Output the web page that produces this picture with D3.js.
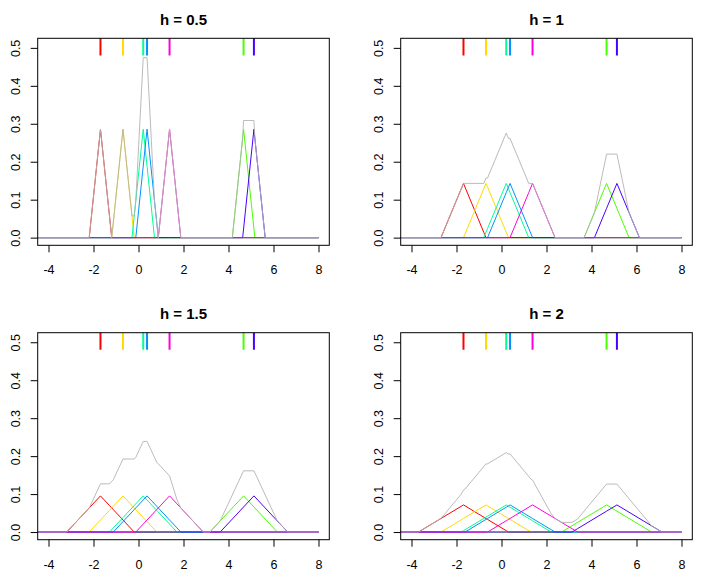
<!DOCTYPE html>
<html>
<head>
<meta charset="utf-8">
<script src="https://cdn.jsdelivr.net/npm/d3@7"></script>
<style>
  html, body { margin: 0; padding: 0; background: #fff; }
  text { font-family: "Liberation Sans", Arial, Helvetica, sans-serif; }
</style>
</head>
<body>
<svg id="chart" width="711" height="581"></svg>
<script>
// ---- data ----
// observations, in the order they are drawn (colour = rainbow(7) in this order)
const points = [-1.69, -0.69, 4.67, 0.21, 0.38, 5.13, 1.38];
const pointColors = ["#FF0000", "#FFDB00", "#49FF00", "#00FF92", "#0092FF", "#4900FF", "#FF00DB"];
const bandwidths = [0.5, 1, 1.5, 2];
const panelTitles = ["h = 0.5", "h = 1", "h = 1.5", "h = 2"];
const xTicks = [-4, -2, 0, 2, 4, 6, 8];
const yTicks = [0, 0.1, 0.2, 0.3, 0.4, 0.5];
const gridRange = [-4.5, 8];      // evaluation range of the curves
const rugRange = [0.48, 0.53];    // vertical extent of the top rug marks
const sumColor = "#b4b4b4";

// ---- layout ----
const svg = d3.select("#chart");
const boxW = 291.6, boxH = 207;
const lefts = [37.7, 400.7], tops = [38.3, 332.7];

// triangular kernel contribution of one point
function tri(x, xi, h, n) {
  const u = Math.abs(x - xi) / h;
  return u < 1 ? (1 - u) / (n * h) : 0;
}

bandwidths.forEach((h, i) => {
  const L = lefts[i % 2], T = tops[Math.floor(i / 2)];
  const x = d3.scaleLinear().domain([-4.48, 8.48]).range([L, L + boxW]);
  const y = d3.scaleLinear().domain([-0.0202, 0.5252]).range([T + boxH, T]);
  const n = points.length;

  const clipId = "clip" + i;
  svg.append("clipPath").attr("id", clipId)
    .append("rect").attr("x", L).attr("y", T).attr("width", boxW).attr("height", boxH);

  const g = svg.append("g");
  const plot = g.append("g").attr("clip-path", `url(#${clipId})`);

  // breakpoints for exact piecewise-linear curves
  let xs = [gridRange[0], gridRange[1]];
  points.forEach(p => { xs.push(p - h, p, p + h); });
  xs = Array.from(new Set(xs.map(v => +v.toFixed(6))))
    .filter(v => v >= gridRange[0] && v <= gridRange[1]).sort((a, b) => a - b);

  const line = d3.line().x(d => x(d[0])).y(d => y(d[1]));

  // individual kernels
  points.forEach((p, k) => {
    const data = xs.map(v => [v, tri(v, p, h, n)]);
    plot.append("path").attr("d", line(data))
      .attr("fill", "none").attr("stroke", pointColors[k]).attr("stroke-width", 1);
  });

  // sum (density estimate)
  const sumData = xs.map(v => [v, d3.sum(points, p => tri(v, p, h, n))]);
  plot.append("path").attr("d", line(sumData))
    .attr("fill", "none").attr("stroke", sumColor).attr("stroke-width", 1)
    .attr("stroke-opacity", 0.9);

  // rug at top
  points.forEach((p, k) => {
    plot.append("line")
      .attr("x1", x(p)).attr("x2", x(p))
      .attr("y1", y(rugRange[0])).attr("y2", y(rugRange[1]))
      .attr("stroke", pointColors[k]).attr("stroke-width", 2);
  });

  // axes
  const xa = g.append("g").attr("transform", `translate(0,${T + boxH})`)
    .call(d3.axisBottom(x).tickValues(xTicks).tickSize(7).tickFormat(d3.format("d")));
  xa.select(".domain").remove();
  xa.selectAll("line").attr("stroke", "#000");
  xa.selectAll("text").attr("y", 29).attr("dy", null)
    .style("font-size", "12.5px").attr("fill", "#000")
    .style("font-family", '"Liberation Sans", Arial, sans-serif')
    .text(d => d < 0 ? "-" + Math.abs(d) : d);

  const ya = g.append("g").attr("transform", `translate(${L},0)`)
    .call(d3.axisLeft(y).tickValues(yTicks).tickSize(7).tickFormat(d3.format(".1f")));
  ya.select(".domain").remove();
  ya.selectAll("line").attr("stroke", "#000");
  ya.selectAll("text")
    .attr("x", null).attr("y", null).attr("dy", null)
    .attr("text-anchor", "middle")
    .attr("transform", "translate(-18,0) rotate(-90)")
    .style("font-size", "12.5px").attr("fill", "#000")
    .style("font-family", '"Liberation Sans", Arial, sans-serif');

  // box
  g.append("rect").attr("x", L).attr("y", T).attr("width", boxW).attr("height", boxH)
    .attr("fill", "none").attr("stroke", "#000").attr("stroke-width", 1);

  // title
  g.append("text").attr("x", L + boxW / 2).attr("y", T - 13.3)
    .attr("text-anchor", "middle")
    .style("font-size", "15px").style("font-weight", "bold")
    .text(panelTitles[i]);
});
</script>
</body>
</html>
